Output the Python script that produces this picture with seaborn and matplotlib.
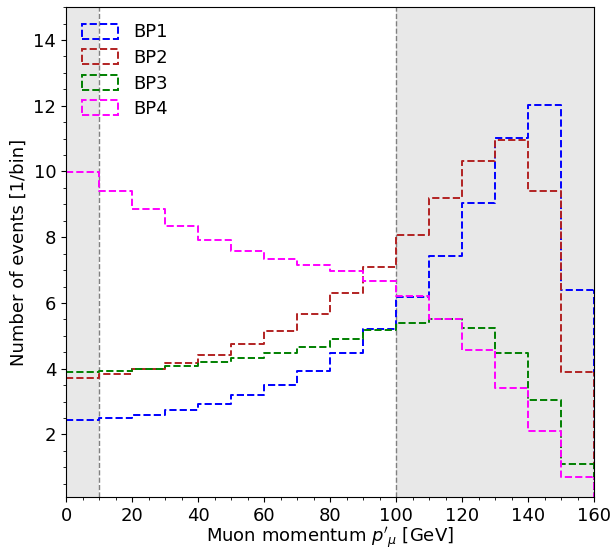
import numpy as np
import pandas as pd
import matplotlib
matplotlib.use('Agg')
import matplotlib.pyplot as plt
from matplotlib.patches import Patch
from matplotlib.ticker import MultipleLocator
import seaborn as sns

# bin edges in GeV (10 GeV wide) and weights read per bin
bin_edges = list(range(0, 161, 10))
bp1 = [2.43, 2.50, 2.60, 2.75, 2.93, 3.19, 3.51, 3.94, 4.48, 5.20,
       6.17, 7.42, 9.05, 11.01, 12.02, 6.39]
bp2 = [3.73, 3.83, 3.98, 4.17, 4.41, 4.74, 5.15, 5.66, 6.31, 7.10,
       8.06, 9.18, 10.33, 10.95, 9.42, 3.89]
bp3 = [3.91, 3.94, 4.00, 4.07, 4.19, 4.31, 4.48, 4.67, 4.91, 5.18,
       5.40, 5.50, 5.25, 4.48, 3.04, 1.09]
bp4 = [9.97, 9.41, 8.86, 8.35, 7.92, 7.59, 7.35, 7.16, 6.96, 6.66,
       6.20, 5.50, 4.56, 3.42, 2.11, 0.71]
labels = ["BP1", "BP2", "BP3", "BP4"]
colors = ["blue", "firebrick", "green", "magenta"]

centers = [(a + b) / 2 for a, b in zip(bin_edges[:-1], bin_edges[1:])]

sns.set_style("ticks", {"axes.edgecolor": "black", "axes.labelcolor": "black",
                        "text.color": "black", "xtick.color": "black",
                        "ytick.color": "black"})
plt.rcParams['font.family'] = ['DejaVu Sans']

fig = plt.figure(figsize=(6.12, 5.49), dpi=100)
ax = fig.add_axes([0.108, 0.095, 0.863, 0.892])

# excluded regions
ax.axvspan(0, 10, color="lightgray", alpha=0.5, lw=0)
ax.axvspan(100, 160, color="lightgray", alpha=0.5, lw=0)
ax.axvline(10, color="gray", ls="--", lw=1)
ax.axvline(100, color="gray", ls="--", lw=1)

for vals, lab, col in zip([bp1, bp2, bp3, bp4], labels, colors):
    df = pd.DataFrame({"p": centers, "w": vals})
    sns.histplot(data=df, x="p", weights="w", bins=bin_edges, element="step",
                 fill=False, color=col, linestyle="--", linewidth=1.4, ax=ax)
    # outer edges of the step outline drop to the baseline
    ax.vlines([bin_edges[0], bin_edges[-1]], 0, [vals[0], vals[-1]],
              color=col, linestyle="--", linewidth=1.4)

handles = [Patch(facecolor="none", edgecolor=c, linestyle="--", linewidth=1.4)
           for c in colors]
ax.legend(handles, labels, loc="upper left", frameon=False, fontsize=13,
          handlelength=2.0, handleheight=0.9, borderaxespad=0.5,
          labelspacing=0.42)

ax.set_xlim(0, 160)
ax.set_ylim(0.1, 15)
ax.xaxis.set_minor_locator(MultipleLocator(5))
ax.yaxis.set_minor_locator(MultipleLocator(0.5))
ax.tick_params(axis="both", which="major", labelsize=13)
ax.set_xlabel(r"Muon momentum $p'_{\mu}$ [GeV]", fontsize=13, labelpad=1)
ax.set_ylabel("Number of events [1/bin]", fontsize=13)

fig.savefig("out.png", dpi=100)
